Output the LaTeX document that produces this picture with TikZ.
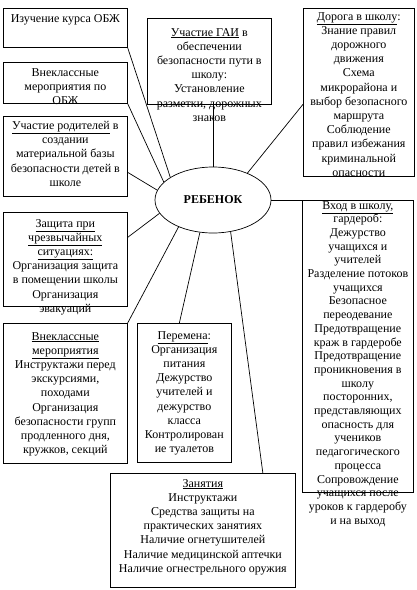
\documentclass[tikz,border=0pt]{standalone}
\usepackage{fontspec}
\setmainfont{Liberation Serif}
\usepackage{tikz}
\usetikzlibrary{shapes.geometric,positioning}

\begin{document}
\begin{tikzpicture}[x=1pt,y=-1pt,
	box/.style={draw,line width=0.7pt,anchor=north west,inner sep=0pt},
	txt/.style={align=center,inner sep=0pt,font=\fontsize{12}{14.2}\selectfont},
	link/.style={line width=0.7pt}]
				 \useasboundingbox (0,0) rectangle (417,590);
				 %boxes
				 \node[box,minimum width=124pt,minimum height=39pt] (kurs) at (3,8) {};
				 \node[box,minimum width=124pt,minimum height=41pt] (obzh) at (3,62) {};
				 \node[box,minimum width=124pt,minimum height=80pt] (roditeli) at (3,116) {};
				 \node[box,minimum width=124pt,minimum height=86pt] (gai) at (147,18) {};
				 \node[box,minimum width=111pt,minimum height=168pt] (doroga) at (303,8) {};
				 \node[box,minimum width=124pt,minimum height=94pt] (chs) at (3,212) {};
				 \node[box,minimum width=124pt,minimum height=140pt] (vnemer) at (3,323) {};
				 \node[box,minimum width=94pt,minimum height=139pt] (peremena) at (137,323) {};
				 \node[box,minimum width=111pt,minimum height=292pt] (vhod) at (302,200) {};
				 \node[box,minimum width=185pt,minimum height=114pt] (zanyatiya) at (110,473) {};
				 \node[draw,line width=0.7pt,ellipse,minimum width=116pt,minimum height=66pt,inner sep=0pt,font=\bfseries\fontsize{12}{14}\selectfont] (rebenok) at (213,200) {РЕБЕНОК};
				 %texts
				 \node[txt,below=6pt of kurs.north] (kurs-t) {Изучение курса ОБЖ};
				 \node[txt,below=6pt of obzh.north] (obzh-t) {Внеклассные\\мероприятия по\\ОБЖ};
				 \node[txt,below=5pt of roditeli.north] (roditeli-t) {\underline{Участие родителей} в\\создании\\материальной базы\\безопасности детей в\\школе};
				 \node[txt,below=10pt of gai.north] (gai-t) {\underline{Участие ГАИ} в\\обеспечении\\безопасности пути в\\школу:\\Установление\\разметки, дорожных\\знаков};
				 \node[txt,below=4pt of doroga.north] (doroga-t) {\underline{Дорога в школу}:\\Знание правил\\дорожного\\движения\\Схема\\микрорайона и\\выбор безопасного\\маршрута\\Соблюдение\\правил избежания\\криминальной\\опасности};
				 \node[txt,below=7pt of chs.north] (chs-t) {\underline{Защита при}\\\underline{чрезвычайных}\\\underline{ситуациях:}\\Организация защита\\в помещении школы\\Организация\\эвакуаций};
				 \node[txt,below=9pt of vnemer.north] (vnemer-t) {\underline{Внеклассные}\\\underline{мероприятия}\\Инструктажи перед\\экскурсиями,\\походами\\Организация\\безопасности групп\\продленного дня,\\кружков, секций};
				 \node[txt,below=8pt of peremena.north] (peremena-t) {\underline{Перемена}:\\Организация\\питания\\Дежурство\\учителей и\\дежурство\\класса\\Контролирован\\ие туалетов};
				 \node[txt,font=\fontsize{12}{13.7}\selectfont,below=1pt of vhod.north] (vhod-t) {\underline{Вход в школу,}\\гардероб:\\Дежурство\\учащихся и\\учителей\\Разделение потоков\\учащихся\\Безопасное\\переодевание\\Предотвращение\\краж в гардеробе\\Предотвращение\\проникновения в\\школу\\посторонних,\\представляющих\\опасность для\\учеников\\педагогического\\процесса\\Сопровождение\\учащихся после\\уроков к гардеробу\\и на выход};
				 \node[txt,below=6pt of zanyatiya.north] (zanyatiya-t) {\underline{Занятия}\\Инструктажи\\Средства защиты на\\практических занятиях\\Наличие огнетушителей\\Наличие медицинской аптечки\\Наличие огнестрельного оружия};
				 %links
				 \draw[link] (kurs.south east)--(rebenok.152);
				 \draw[link] (obzh.south east)--(rebenok.160);
				 \draw[link] ([yshift=-16pt]roditeli.east)--(rebenok.170);
				 \draw[link] (rebenok.north)--(rebenok.north |- gai.south);
				 \draw[link] ([yshift=-12pt]doroga.west)--(rebenok.38);
				 \draw[link] ([yshift=22pt]chs.east)--(rebenok.194);
				 \draw[link] (vnemer.north east)--(rebenok.218);
				 \draw[link] ([xshift=-5pt]peremena.north)--(rebenok.248);
				 \draw[link] (rebenok.east)--(rebenok.east -| vhod.west);
				 \draw[link] ([xshift=60pt]zanyatiya.north)--(rebenok.299);
\end{tikzpicture}
\end{document}
